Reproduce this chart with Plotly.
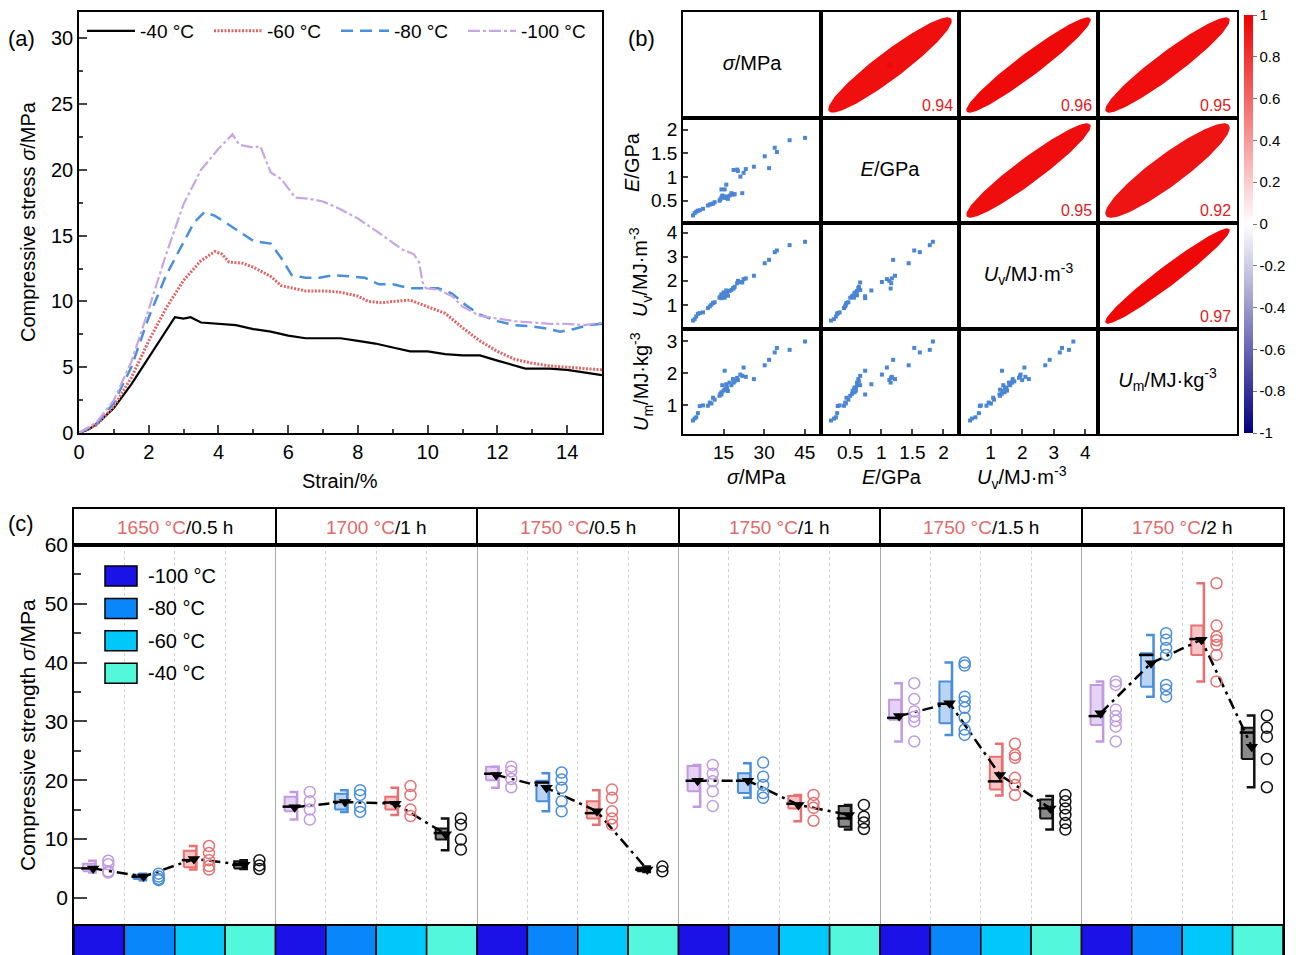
import numpy as np
import plotly.graph_objects as go

W, H = 1296, 955
FONT = "Liberation Sans, Arial, sans-serif"


def fx(p):
    return p / W


def fy(p):
    return 1 - p / H


# ======================= Panel (a) data =======================
a_names = ["-40 °C", "-60 °C", "-80 °C", "-100 °C"]
strain_m40 = [0, 0.3, 0.6, 1.0, 1.5, 2.0, 2.5, 2.75, 3.0, 3.2, 3.5, 4.0, 4.5, 5.0, 5.5, 6.0, 6.5, 7.0,
              7.5, 8.0, 8.5, 9.0, 9.5, 10.0, 10.5, 11.0, 11.5, 12.0, 12.5, 12.8, 13.0, 13.5, 14.0, 14.5, 15.0]
stress_m40 = [0, 0.3, 0.9, 1.9, 3.7, 5.7, 7.8, 8.8, 8.7, 8.8, 8.4, 8.3, 8.2, 7.9, 7.7, 7.4, 7.2, 7.2,
              7.2, 7.0, 6.8, 6.5, 6.2, 6.2, 6.0, 5.9, 5.9, 5.5, 5.1, 4.9, 4.9, 4.9, 4.8, 4.6, 4.4]
strain_m60 = [0, 0.5, 1.0, 1.5, 2.0, 2.5, 3.0, 3.5, 3.9, 4.1, 4.3, 4.7, 5.0, 5.5, 5.8, 6.0, 6.5, 7.0,
              7.5, 8.0, 8.3, 8.7, 9.0, 9.5, 10.0, 10.5, 11.0, 11.5, 12.0, 12.5, 13.0, 13.5, 14.0, 14.5, 15.0]
stress_m60 = [0, 0.6, 2.0, 4.2, 7.0, 9.5, 11.6, 13.1, 13.8, 13.6, 13.0, 12.9, 12.6, 11.9, 11.2, 11.1, 10.8, 10.8,
              10.7, 10.4, 10.0, 9.9, 10.0, 10.1, 9.6, 9.1, 8.0, 7.0, 6.2, 5.6, 5.3, 5.1, 5.0, 4.9, 4.8]
strain_m80 = [0, 0.5, 1.0, 1.5, 2.0, 2.5, 3.0, 3.3, 3.6, 3.9, 4.2, 4.6, 5.0, 5.5, 5.8, 6.1, 6.5, 6.9, 7.3,
              7.8, 8.2, 8.6, 9.0, 9.5, 10.0, 10.3, 10.7, 11.1, 11.5, 12.0, 12.5, 13.0, 13.5, 13.8, 14.2, 14.6, 15.0]
stress_m80 = [0, 0.7, 2.3, 5.0, 8.8, 12.0, 14.5, 16.0, 16.8, 16.5, 16.0, 15.3, 14.6, 14.4, 13.3, 12.0, 11.8, 11.8,
              12.0, 11.9, 11.8, 11.3, 11.3, 11.0, 11.0, 11.0, 10.6, 9.7, 9.0, 8.5, 8.2, 8.1, 7.9, 7.7, 7.9, 8.2, 8.3]
strain_m100 = [0, 0.5, 1.0, 1.5, 2.0, 2.5, 3.0, 3.5, 4.0, 4.4, 4.6, 5.0, 5.2, 5.5, 5.8, 6.0, 6.2, 6.6, 7.0,
               7.5, 8.0, 8.5, 9.0, 9.3, 9.6, 9.75, 9.85, 9.95, 10.3, 10.7, 11.0, 11.5, 12.0, 12.5, 13.0,
               13.5, 14.0, 14.5, 15.0]
stress_m100 = [0, 0.8, 2.5, 5.4, 9.4, 13.6, 17.4, 20.0, 21.6, 22.7, 21.9, 21.7, 21.8, 19.8, 19.3, 18.6, 17.9,
               17.8, 17.6, 17.0, 16.3, 15.4, 14.5, 13.9, 13.6, 13.0, 11.5, 11.0, 10.9, 10.4, 9.6, 8.9, 8.7,
               8.5, 8.4, 8.3, 8.3, 8.2, 8.4]

# ======================= Panel (b) data =======================
sigma_b = [3.7, 4.3, 4.9, 5.5, 6.2, 7.4, 9.2, 9.9, 10.5, 11.1, 11.7, 13.5, 13.8, 14.2, 14.5, 15.0, 15.4,
           15.8, 16.3, 16.6, 17.2, 17.9, 18.5, 19.1, 14.2, 15.4, 16.0, 21.9, 18.7, 20.0, 20.3, 21.2, 22.4,
           23.2, 26.2, 30.2, 31.8, 33.9, 34.7, 39.4, 45.1]
E_b = [0.19, 0.24, 0.27, 0.29, 0.30, 0.33, 0.40, 0.42, 0.43, 0.44, 0.47, 0.50, 0.53, 0.57, 0.61, 0.59, 0.56,
       0.59, 0.57, 0.54, 0.61, 0.66, 0.63, 0.64, 0.74, 0.74, 0.84, 0.66, 1.15, 1.16, 1.13, 1.01, 1.09,
       1.17, 1.22, 1.44, 1.19, 1.62, 1.53, 1.78, 1.83]
Uv_b = [0.35, 0.41, 0.52, 0.63, 0.66, 0.69, 0.87, 0.94, 1.01, 1.08, 1.11, 1.30, 1.35, 1.44, 1.40, 1.52, 1.30,
        1.45, 1.50, 1.38, 1.58, 1.62, 1.70, 1.75, 1.28, 1.36, 1.60, 1.93, 1.68, 1.90, 2.00, 1.95, 2.07,
        2.10, 2.21, 2.73, 2.87, 3.19, 3.26, 3.48, 3.62]
Um_b = [0.52, 0.58, 0.62, 0.75, 0.97, 0.99, 0.98, 1.08, 1.05, 1.23, 1.17, 1.29, 1.35, 1.40, 1.62, 1.45, 1.48,
        1.52, 1.55, 1.44, 1.70, 1.62, 1.81, 1.74, 1.33, 2.07, 1.65, 1.91, 1.70, 1.85, 1.78, 1.95, 2.17,
        1.88, 1.81, 2.24, 2.41, 2.64, 2.78, 2.72, 2.98]
b_vars = [sigma_b, E_b, Uv_b, Um_b]
b_labels = ["<i>σ</i>/MPa", "<i>E</i>/GPa", "<i>U</i><sub>v</sub>/MJ·m<sup>-3</sup>",
            "<i>U</i><sub>m</sub>/MJ·kg<sup>-3</sup>"]
b_ranges = [[0, 51], [0.03, 2.25], [0, 4.4], [0.1, 3.37]]
b_ticks = [[15, 30, 45], [0.5, 1, 1.5, 2], [1, 2, 3, 4], [1, 2, 3]]
corr_pairs = [(0, 1), (0, 2), (0, 3), (1, 2), (1, 3), (2, 3)]
corr_vals = [0.94, 0.96, 0.95, 0.95, 0.92, 0.97]
cbar_ticks = [-1, -0.8, -0.6, -0.4, -0.2, 0, 0.2, 0.4, 0.6, 0.8, 1]

# ======================= Panel (c) data =======================
c_temps = ["1650 °C", "1700 °C", "1750 °C", "1750 °C", "1750 °C", "1750 °C"]
c_times = ["0.5 h", "1 h", "0.5 h", "1 h", "1.5 h", "2 h"]
c_levels = ["-100 °C", "-80 °C", "-60 °C", "-40 °C"]
# samples[group][level]
c_samples = [
    [[6.3, 5.7, 4.5, 4.3], [4.1, 3.6, 3.2, 3.0], [8.8, 7.6, 6.4, 5.4, 4.8], [6.4, 5.5, 4.9]],
    [[18.0, 16.4, 15.0, 13.3], [18.3, 17.5, 15.5, 14.6], [19.0, 17.5, 15.0, 13.9], [13.5, 12.4, 9.9, 8.2]],
    [[22.3, 21.5, 20.2, 18.8], [21.3, 20.1, 18.7, 16.4, 14.7], [18.4, 17.0, 14.7, 13.5, 12.4], [5.3, 4.5]],
    [[22.6, 21.1, 19.8, 18.1, 15.6], [23.0, 20.6, 19.2, 17.8, 17.0], [17.5, 16.1, 15.3, 13.1],
     [15.8, 13.8, 12.8, 11.7]],
    [[36.5, 33.8, 31.7, 30.8, 30.0, 26.6], [40.0, 39.5, 34.2, 33.4, 32.3, 30.6, 28.6, 27.7],
     [26.2, 24.3, 23.8, 20.4, 19.2, 17.5], [17.5, 16.4, 15.2, 14.1, 12.7, 11.6]],
    [[36.8, 36.2, 32.0, 30.9, 30.1, 29.1, 26.6], [45.0, 43.9, 42.5, 41.3, 36.2, 35.4, 34.2],
     [53.5, 46.3, 44.4, 43.8, 43.0, 41.3, 36.8], [31.0, 28.9, 27.4, 23.6, 18.8]],
]
c_q1 = [[4.5, 3.2, 5.2, 5.0], [14.7, 15.0, 15.0, 9.9], [20.0, 16.4, 13.5, 4.5],
        [18.1, 17.8, 15.2, 12.1], [30.3, 29.7, 18.4, 13.5], [29.4, 35.9, 41.3, 23.6]]
c_med = [[5.0, 3.6, 6.4, 5.6], [15.5, 16.3, 16.2, 11.0], [21.1, 19.6, 14.4, 4.8],
         [19.9, 19.9, 16.0, 13.5], [30.6, 33.0, 19.8, 15.2], [30.9, 41.3, 44.0, 28.1]]
c_q3 = [[5.8, 3.9, 8.0, 6.2], [17.2, 17.7, 17.2, 11.8], [22.3, 19.9, 16.4, 5.1],
        [22.4, 21.2, 17.3, 15.6], [33.7, 36.8, 24.0, 16.7], [36.2, 41.6, 46.3, 28.9]]
c_wlo = [[4.3, 3.0, 4.8, 4.9], [13.3, 14.6, 14.1, 8.1], [18.7, 14.7, 12.4, 4.4],
         [15.5, 17.0, 13.0, 11.6], [26.6, 27.7, 17.4, 11.6], [26.6, 34.2, 36.8, 18.8]]
c_whi = [[6.3, 4.1, 8.8, 6.4], [18.0, 18.3, 18.7, 13.5], [22.3, 21.2, 18.3, 5.3],
         [22.6, 22.9, 17.5, 15.8], [36.5, 40.0, 26.2, 17.3], [36.8, 44.7, 53.5, 31.0]]
c_mean = [[5.0, 3.6, 6.6, 5.6], [15.4, 16.3, 16.0, 10.8], [20.9, 18.7, 14.7, 4.8],
          [19.9, 19.9, 15.8, 14.1], [30.9, 33.1, 20.9, 15.2], [31.4, 39.9, 43.9, 25.7]]

edge_cols = ["#c29ae2", "#4a8edb", "#e87070", "#111111"]
fill_cols = ["#e4d3f4", "#bad4f2", "#f6c6c6", "#8a8a8a"]
strip_cols = ["#1a12e6", "#0a86fb", "#00c8fa", "#52f7dc"]

# ======================= Build figure =======================
fig = go.Figure()
lay = dict(width=W, height=H, margin=dict(l=0, r=0, t=0, b=0, pad=0, autoexpand=False), paper_bgcolor="white",
           plot_bgcolor="rgba(0,0,0,0)", font=dict(family=FONT, size=19, color="black"), autosize=False)
annotations = []
shapes = []


def note(xp, yp, text, size, **kw):
    d = dict(x=fx(xp), y=fy(yp), xref="paper", yref="paper", text=text, showarrow=False,
             xanchor="center", yanchor="middle", font=dict(size=size))
    d.update(kw)
    annotations.append(d)


def axkeys(n):
    return ("xaxis" if n == 1 else f"xaxis{n}"), ("yaxis" if n == 1 else f"yaxis{n}")


def refs(n):
    return ("x" if n == 1 else f"x{n}"), ("y" if n == 1 else f"y{n}")


frame = dict(showline=True, mirror=True, linecolor="black", linewidth=1.5, showgrid=False, zeroline=False,
             automargin=False)

# ---------- (a) ----------
lay["xaxis"] = dict(frame, domain=[fx(79), fx(602)], anchor="y", range=[0, 15], tickmode="linear", tick0=0,
                    dtick=2, ticks="inside", ticklen=8, tickwidth=1.5,
                    minor=dict(tickmode="linear", tick0=0, dtick=1, ticks="inside", ticklen=4, tickwidth=1.5),
                    tickfont=dict(size=20))
lay["yaxis"] = dict(frame, domain=[fy(433), fy(12)], anchor="x", range=[0, 32], tickmode="linear", tick0=0,
                    dtick=5, ticks="inside", ticklen=8, tickwidth=1.5,
                    minor=dict(tickmode="linear", tick0=0, dtick=2.5, ticks="inside", ticklen=4, tickwidth=1.5),
                    tickfont=dict(size=20))
a_series = [(strain_m40, stress_m40, "#000000", "solid", 2.2),
            (strain_m60, stress_m60, "#e46464", "2px,1.5px", 3),
            (strain_m80, stress_m80, "#4a8fdc", "12px,7px", 2.5),
            (strain_m100, stress_m100, "#c8a6e6", "12px,3px,3px,3px", 2.2)]
for name, (xs, ys, col, dash, w) in zip(a_names, a_series):
    fig.add_trace(go.Scatter(x=xs, y=ys, mode="lines", name=name, line=dict(color=col, width=w, dash=dash),
                             xaxis="x", yaxis="y", legend="legend"))
lay["legend"] = dict(x=fx(82), y=fy(12), xanchor="left", yanchor="top", orientation="h",
                     bgcolor="rgba(0,0,0,0)", font=dict(size=19), itemwidth=48, entrywidth=64,
                     entrywidthmode="pixels", tracegroupgap=0, borderwidth=0)
note(28, 222, "Compressive stress <i>σ</i>/MPa", 20, textangle=-90)
note(340, 481, "Strain/%", 20)
note(6, 38, "(a)", 22, xanchor="left")
note(626, 38, "(b)", 22, xanchor="left")
note(6, 523, "(c)", 22, xanchor="left")

# ---------- (b) ----------
BX = [683, 821, 959, 1098, 1237]
BY = [12, 118, 223, 329, 434]
cscale = [[0, "#000080"], [0.5, "#ffffff"], [1, "#ee0000"]]


def corr_color(v):
    c0 = (255, 255, 255)
    c1, t = ((238, 0, 0), v) if v >= 0 else ((0, 0, 128), -v)
    rgb = [round(a + (b - a) * t) for a, b in zip(c0, c1)]
    return f"rgb({rgb[0]},{rgb[1]},{rgb[2]})"


corr_lookup = dict(zip(corr_pairs, corr_vals))
for r in range(4):
    for c in range(4):
        n = 2 + r * 4 + c
        xk, yk = axkeys(n)
        xr, yr = refs(n)
        xd = dict(frame, domain=[fx(BX[c]), fx(BX[c + 1])], anchor=yr, showticklabels=False, ticks="")
        yd = dict(frame, domain=[fy(BY[r + 1]), fy(BY[r])], anchor=xr, showticklabels=False, ticks="")
        if r > c:
            xd["range"] = b_ranges[c]
            yd["range"] = b_ranges[r]
            if r == 3:
                xd.update(showticklabels=True, ticks="inside", tickmode="array", tickvals=b_ticks[c],
                          ticklen=5, tickwidth=1.5, tickfont=dict(size=19))
            if c == 0:
                yd.update(showticklabels=True, ticks="inside", tickmode="array", tickvals=b_ticks[r],
                          ticklen=5, tickwidth=1.5, tickfont=dict(size=19))
            fig.add_trace(go.Scatter(x=b_vars[c], y=b_vars[r], mode="markers",
                                     marker=dict(symbol="square", size=4, color="#4a86d4"),
                                     xaxis=xr, yaxis=yr, showlegend=False, hoverinfo="skip"))
        elif c > r:
            xd["range"] = [-1.13, 1.13]
            yd["range"] = [-1.13, 1.13]
            v = corr_lookup[(r, c)]
            d = np.arccos(v)
            t = np.linspace(0, 2 * np.pi, 160)
            col = corr_color(v)
            fig.add_trace(go.Scatter(x=np.cos(t + d / 2), y=np.cos(t - d / 2), mode="lines", fill="toself",
                                     fillcolor=col, line=dict(color=col, width=1.5),
                                     xaxis=xr, yaxis=yr, showlegend=False, hoverinfo="skip"))
            annotations.append(dict(x=0.97, y=0.02, xref=f"{xr} domain", yref=f"{yr} domain",
                                    xanchor="right", yanchor="bottom", text=f"{v:.2f}", showarrow=False,
                                    font=dict(size=16, color="#e0201e")))
        else:
            xd["range"] = [0, 1]
            yd["range"] = [0, 1]
            fig.add_trace(go.Scatter(x=[0.5], y=[0.5], mode="text", text=[b_labels[r]],
                                     textposition="middle center", textfont=dict(size=20, color="black"),
                                     xaxis=xr, yaxis=yr, showlegend=False, hoverinfo="skip"))
        lay[xk] = xd
        lay[yk] = yd

# colour bar (carried by an invisible marker set)
fig.add_trace(go.Scatter(x=[0] * len(corr_vals), y=[0] * len(corr_vals), mode="markers",
                         marker=dict(size=0, color=corr_vals, colorscale=cscale, cmin=-1, cmax=1, showscale=True,
                                     colorbar=dict(x=fx(1244), xanchor="left", y=fy(224), yanchor="middle",
                                                   len=(433 - 15) / H, lenmode="fraction", thickness=9,
                                                   thicknessmode="pixels", xpad=0, ypad=0, tickmode="array",
                                                   tickvals=cbar_ticks, ticktext=[f"{v:g}" for v in cbar_ticks],
                                                   ticks="outside", ticklen=4, tickcolor="#777",
                                                   tickfont=dict(size=15), outlinewidth=0)),
                         xaxis="x3", yaxis="y3", showlegend=False, hoverinfo="skip"))

for lbl, xp in zip(b_labels[:3], [757, 892, 1022]):
    note(xp, 477, lbl, 20)
for lbl, xp, ypp in zip(b_labels[1:], [632, 640, 641], [162, 272, 382]):
    note(xp, ypp, lbl, 20, textangle=-90)

# ---------- (c) ----------
n_g, n_l = len(c_temps), len(c_levels)
n_slots = n_g * n_l
lay["xaxis18"] = dict(frame, domain=[fx(74), fx(1283)], anchor="y18", range=[0, n_slots], tickmode="array",
                      tickvals=list(range(n_l, n_slots, n_l)), showticklabels=False, ticks="", showgrid=True,
                      gridcolor="#a8a8a8", gridwidth=1.3,
                      minor=dict(tickmode="array", tickvals=[k for k in range(1, n_slots) if k % n_l],
                                 showgrid=True, gridcolor="#d0d0d0", griddash="dot", gridwidth=1, ticks=""))
lay["yaxis18"] = dict(frame, domain=[fy(926), fy(545)], anchor="x18", range=[-4.8, 60], tickmode="linear",
                      tick0=0, dtick=10, ticks="inside", ticklen=13, tickwidth=1.5,
                      minor=dict(tickmode="linear", tick0=5, dtick=10, ticks="inside", ticklen=7, tickwidth=1.5),
                      tickfont=dict(size=21))
lay["xaxis19"] = dict(frame, domain=[fx(74), fx(1283)], anchor="y19", range=[0, n_g], tickmode="array",
                      tickvals=list(range(1, n_g)), showticklabels=False, ticks="", showgrid=True,
                      gridcolor="black", gridwidth=1.8)
lay["yaxis19"] = dict(frame, domain=[fy(545), fy(509)], anchor="x19", range=[0, 1], showticklabels=False,
                      ticks="")
lay["xaxis20"] = dict(frame, domain=[fx(74), fx(1283)], anchor="y20", range=[0, n_slots],
                      showticklabels=False, ticks="")
lay["yaxis20"] = dict(frame, domain=[0, fy(926)], anchor="x20", range=[0, 1], showticklabels=False, ticks="")

for g in range(n_g):
    annotations.append(dict(x=g + 0.5, y=0.5, xref="x19", yref="y19", showarrow=False,
                            xanchor="center", yanchor="middle",
                            text=f"<span style='color:#e26a6a'>{c_temps[g]}</span>/{c_times[g]}",
                            font=dict(size=19)))

# colour strip
slot_pos = np.arange(n_slots)
fig.add_trace(go.Bar(x=slot_pos + 0.5, y=[1.4] * n_slots, base=-0.2, width=1,
                     marker=dict(color=[strip_cols[k % n_l] for k in slot_pos],
                                 line=dict(color="black", width=1.5)),
                     xaxis="x20", yaxis="y20", showlegend=False, hoverinfo="skip"))

# boxes
for g in range(n_g):
    for s in range(n_l):
        k = g * n_l + s
        q1, q3, md = c_q1[g][s], c_q3[g][s], c_med[g][s]
        lo, hi = c_wlo[g][s], c_whi[g][s]
        fig.add_trace(go.Scatter(x=[k + 0.18, k + 0.42, k + 0.42, k + 0.18, k + 0.18],
                                 y=[q1, q1, q3, q3, q1], mode="lines", fill="toself",
                                 fillcolor=fill_cols[s], line=dict(color=edge_cols[s], width=2),
                                 xaxis="x18", yaxis="y18", showlegend=False, hoverinfo="skip"))
        fig.add_trace(go.Scatter(x=[k + 0.28, k + 0.43, k + 0.43, k + 0.28], y=[hi, hi, lo, lo],
                                 mode="lines", line=dict(color=edge_cols[s], width=2.5),
                                 xaxis="x18", yaxis="y18", showlegend=False, hoverinfo="skip"))
        fig.add_trace(go.Scatter(x=[k + 0.14, k + 0.43], y=[md, md], mode="lines",
                                 line=dict(color="black", width=2.5),
                                 xaxis="x18", yaxis="y18", showlegend=False, hoverinfo="skip"))

# mean lines
for g in range(n_g):
    fig.add_trace(go.Scatter(x=[g * n_l + s + 0.38 for s in range(n_l)], y=c_mean[g], mode="lines+markers",
                             line=dict(color="black", width=2.5, dash="11px,5px,3px,5px"),
                             marker=dict(symbol="triangle-down", size=11, color="black"),
                             xaxis="x18", yaxis="y18", showlegend=False, hoverinfo="skip"))

# individual samples
for g in range(n_g):
    for s in range(n_l):
        k = g * n_l + s
        ys = c_samples[g][s]
        fig.add_trace(go.Scatter(x=[k + 0.68] * len(ys), y=ys, mode="markers",
                                 marker=dict(symbol="circle-open", size=11, color=edge_cols[s],
                                             line=dict(width=1.5, color=edge_cols[s])),
                                 xaxis="x18", yaxis="y18", showlegend=False, hoverinfo="skip"))

# legend of panel (c)
for i, (lbl, col) in enumerate(zip(c_levels, strip_cols)):
    y0 = 566 + i * 32.4
    shapes.append(dict(type="rect", xref="paper", yref="paper", x0=fx(105), x1=fx(137), y0=fy(y0 + 20),
                       y1=fy(y0), fillcolor=col, line=dict(color="black", width=1.5)))
    note(146, y0 + 10, lbl, 20, xanchor="left")

note(27, 735, "Compressive strength <i>σ</i>/MPa", 21, textangle=-90)

lay["annotations"] = annotations
lay["shapes"] = shapes
lay["showlegend"] = True
fig.update_layout(**lay)
fig.write_html("out.html")
